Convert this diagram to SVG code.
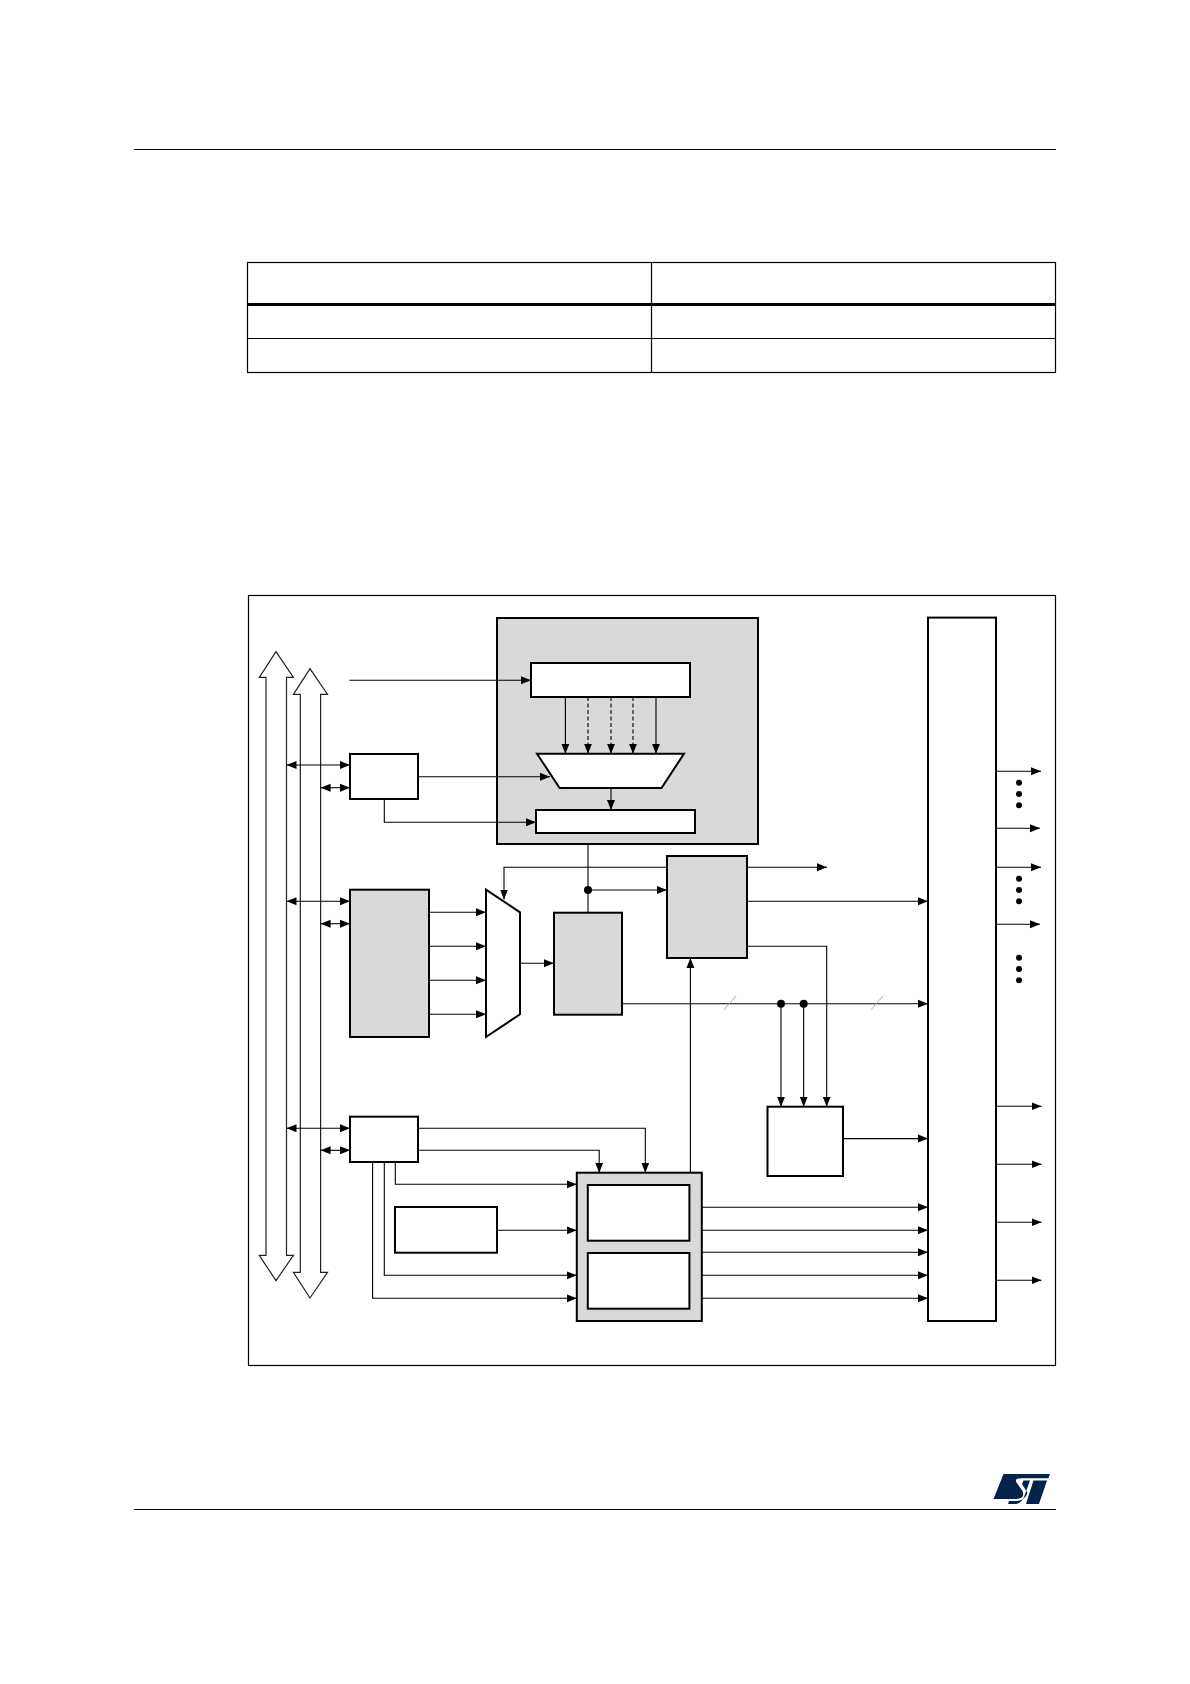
<svg xmlns="http://www.w3.org/2000/svg" width="1190" height="1684" viewBox="0 0 1190 1684">
<defs>
<marker id="ah" markerUnits="userSpaceOnUse" markerWidth="11" markerHeight="9" refX="10" refY="4.5" orient="auto-start-reverse"><path d="M0,0.5 L10,4.5 L0,8.5 Z" fill="#000"/></marker>
</defs>
<style>
.b{fill:#fff;stroke:#000;stroke-width:2;stroke-linejoin:miter}
.g{fill:#d9d9d9;stroke:#000;stroke-width:2;stroke-linejoin:miter}
.t{fill:none;stroke:#000;stroke-width:1.2}
.bus{fill:#fff;stroke:#222;stroke-width:1.2;stroke-linejoin:miter}
.c{fill:none;stroke:#000;stroke-width:1.1;marker-end:url(#ah)}
.p{fill:none;stroke:#000;stroke-width:1.1}
.d{fill:none;stroke:#000;stroke-width:1.1;stroke-dasharray:4 2.5;marker-end:url(#ah)}
.bi{fill:none;stroke:#000;stroke-width:1.1;marker-start:url(#ah);marker-end:url(#ah)}
.tick{stroke:#aaa;stroke-width:1;fill:none}
.dot{fill:#000}
</style>
<g id="page-rules">
<line class="t" x1="134" y1="149.5" x2="1056" y2="149.5"/>
<line class="t" x1="134" y1="1509.5" x2="1056" y2="1509.5"/>
</g>
<g id="table">
<rect class="t" x="247.5" y="262.5" width="808" height="110"/>
<line x1="247.5" y1="304.5" x2="1055.5" y2="304.5" stroke="#000" stroke-width="3"/>
<line class="t" x1="247.5" y1="338.5" x2="1055.5" y2="338.5"/>
<line class="t" x1="651.5" y1="262.5" x2="651.5" y2="372.5"/>
</g>
<rect id="frame" class="t" x="248.5" y="595.5" width="807" height="770"/>
<g id="bus-1"><path class="bus" d="M276,651.7 L293.4,677.3 H286.5 V1255.3 H293.4 L276,1280.7 L259.3,1255.3 H266 V677.3 H259.3 Z"/></g>
<g id="bus-2"><path class="bus" d="M310,668.7 L327.5,694.3 H320.6 V1272.3 H327.5 L310,1298 L293.4,1272.3 H300.3 V694.3 H293.4 Z"/></g>
<g id="node-top-group">
<rect class="g" x="497" y="618" width="261" height="226"/>
<rect class="b" x="531" y="663" width="159" height="34"/>
<path class="b" d="M537,753.7 H684 L661.5,788 H559.6 Z"/>
<rect class="b" x="536" y="810" width="159" height="23"/>
</g>
<g id="node-ctrl-1"><rect class="b" x="350" y="754" width="68" height="45"/></g>
<g id="node-regs"><rect class="g" x="350" y="889.7" width="79" height="147.3"/></g>
<g id="node-mux"><path class="b" d="M486,889.7 L520,912.3 V1014.3 L486,1037 Z"/></g>
<g id="node-center"><rect class="g" x="554" y="912.7" width="68" height="102"/></g>
<g id="node-logic"><rect class="g" x="667" y="856" width="80" height="102"/></g>
<g id="node-side"><rect class="b" x="767.5" y="1106.7" width="75.5" height="69.3"/></g>
<g id="node-bar"><rect class="b" x="928" y="617.6" width="68" height="703.4"/></g>
<g id="node-ctrl-2"><rect class="b" x="350" y="1116.7" width="68" height="45.3"/></g>
<g id="node-source"><rect class="b" x="395" y="1207" width="102" height="45.7"/></g>
<g id="node-pair">
<rect class="g" x="576.8" y="1172.7" width="125" height="148.3"/>
<rect class="b" x="587.8" y="1185" width="101.6" height="55.7"/>
<rect class="b" x="587.8" y="1253" width="101.6" height="55.7"/>
</g>
<g id="logo" fill="#03234b">
<path d="M1003.5,1474 H1050 L1048.4,1478.3 H1021 Q1014,1478.3 1016.5,1482.5 L1022.5,1491 Q1025.5,1498.5 1016,1499 H993.5 Z"/>
<path d="M1023.5,1480.5 H1030 L1024,1497 Q1021,1504 1015,1504 H1008 L1009,1501 H1017 Q1025,1500 1027.5,1493 L1022,1484 Z"/>
<path d="M1033.5,1480.5 H1047 L1039,1504 H1026 Z"/>
</g>
<g id="connectors">
<path class="c" d="M349.5,680.3 H531"/>
<path class="c" d="M565.4,697 V753.7"/>
<path class="d" d="M588,697 V753.7"/>
<path class="d" d="M611,697 V753.7"/>
<path class="d" d="M633,697 V753.7"/>
<path class="c" d="M656,697 V753.7"/>
<path class="c" d="M611,788 V810"/>
<path class="bi" d="M286.5,765 H350"/>
<path class="bi" d="M320.6,787.7 H350"/>
<path class="c" d="M418,776.7 H550"/>
<path class="c" d="M384.3,799 V822.3 H536"/>
<path class="bi" d="M286.5,901.3 H350"/>
<path class="bi" d="M320.6,923.7 H350"/>
<path class="c" d="M429,912.3 H486"/>
<path class="c" d="M429,946.3 H486"/>
<path class="c" d="M429,980.3 H486"/>
<path class="c" d="M429,1014.3 H486"/>
<path class="c" d="M520,963.3 H554"/>
<path class="p" d="M588,844 V912.7"/>
<circle class="dot" cx="588" cy="890" r="4"/>
<path class="c" d="M588,890 H667"/>
<path class="c" d="M667,867.3 H504 V899.5"/>
<path class="c" d="M747,867.3 H827"/>
<path class="c" d="M747,901.3 H928"/>
<path class="c" d="M622,1003.7 H928"/>
<line class="tick" x1="724" y1="1009.7" x2="736" y2="996"/>
<line class="tick" x1="871" y1="1009.7" x2="883" y2="996"/>
<circle class="dot" cx="781" cy="1003.7" r="4"/>
<circle class="dot" cx="803.7" cy="1003.7" r="4"/>
<path class="c" d="M781,1003.7 V1106.7"/>
<path class="c" d="M803.7,1003.7 V1106.7"/>
<path class="c" d="M747,946.3 H826.7 V1106.7"/>
<path class="c" d="M843,1138.6 H928"/>
<path class="c" d="M690.4,1172.7 V958"/>
<path class="bi" d="M286.5,1128.3 H350"/>
<path class="bi" d="M320.6,1150.3 H350"/>
<path class="c" d="M418,1128.3 H645.3 V1172.7"/>
<path class="c" d="M418,1150.3 H599.2 V1172.7"/>
<path class="c" d="M395.3,1162 V1184.3 H576.8"/>
<path class="c" d="M384.3,1162 V1275.3 H576.8"/>
<path class="c" d="M372.6,1162 V1298.3 H576.8"/>
<path class="c" d="M497,1230.3 H576.8"/>
<path class="c" d="M701.8,1207.3 H928"/>
<path class="c" d="M701.8,1230.3 H928"/>
<path class="c" d="M701.8,1252.3 H928"/>
<path class="c" d="M701.8,1275.3 H928"/>
<path class="c" d="M701.8,1298.3 H928"/>
<path class="c" d="M996,771.3 H1041"/>
<path class="c" d="M996,828.3 H1040"/>
<path class="c" d="M996,867.3 H1041"/>
<path class="c" d="M996,924.3 H1040"/>
<path class="c" d="M996,1106.2 H1041.5"/>
<path class="c" d="M996,1164.2 H1041.5"/>
<path class="c" d="M996,1222.2 H1041.5"/>
<path class="c" d="M996,1280.2 H1041.5"/>
<g class="dot">
<circle cx="1019" cy="782.7" r="3"/><circle cx="1019" cy="794" r="3"/><circle cx="1019" cy="805.3" r="3"/>
<circle cx="1019" cy="878.7" r="3"/><circle cx="1019" cy="890" r="3"/><circle cx="1019" cy="901.3" r="3"/>
<circle cx="1019" cy="957.7" r="3"/><circle cx="1019" cy="969" r="3"/><circle cx="1019" cy="980.3" r="3"/>
</g>
</g>
</svg>
